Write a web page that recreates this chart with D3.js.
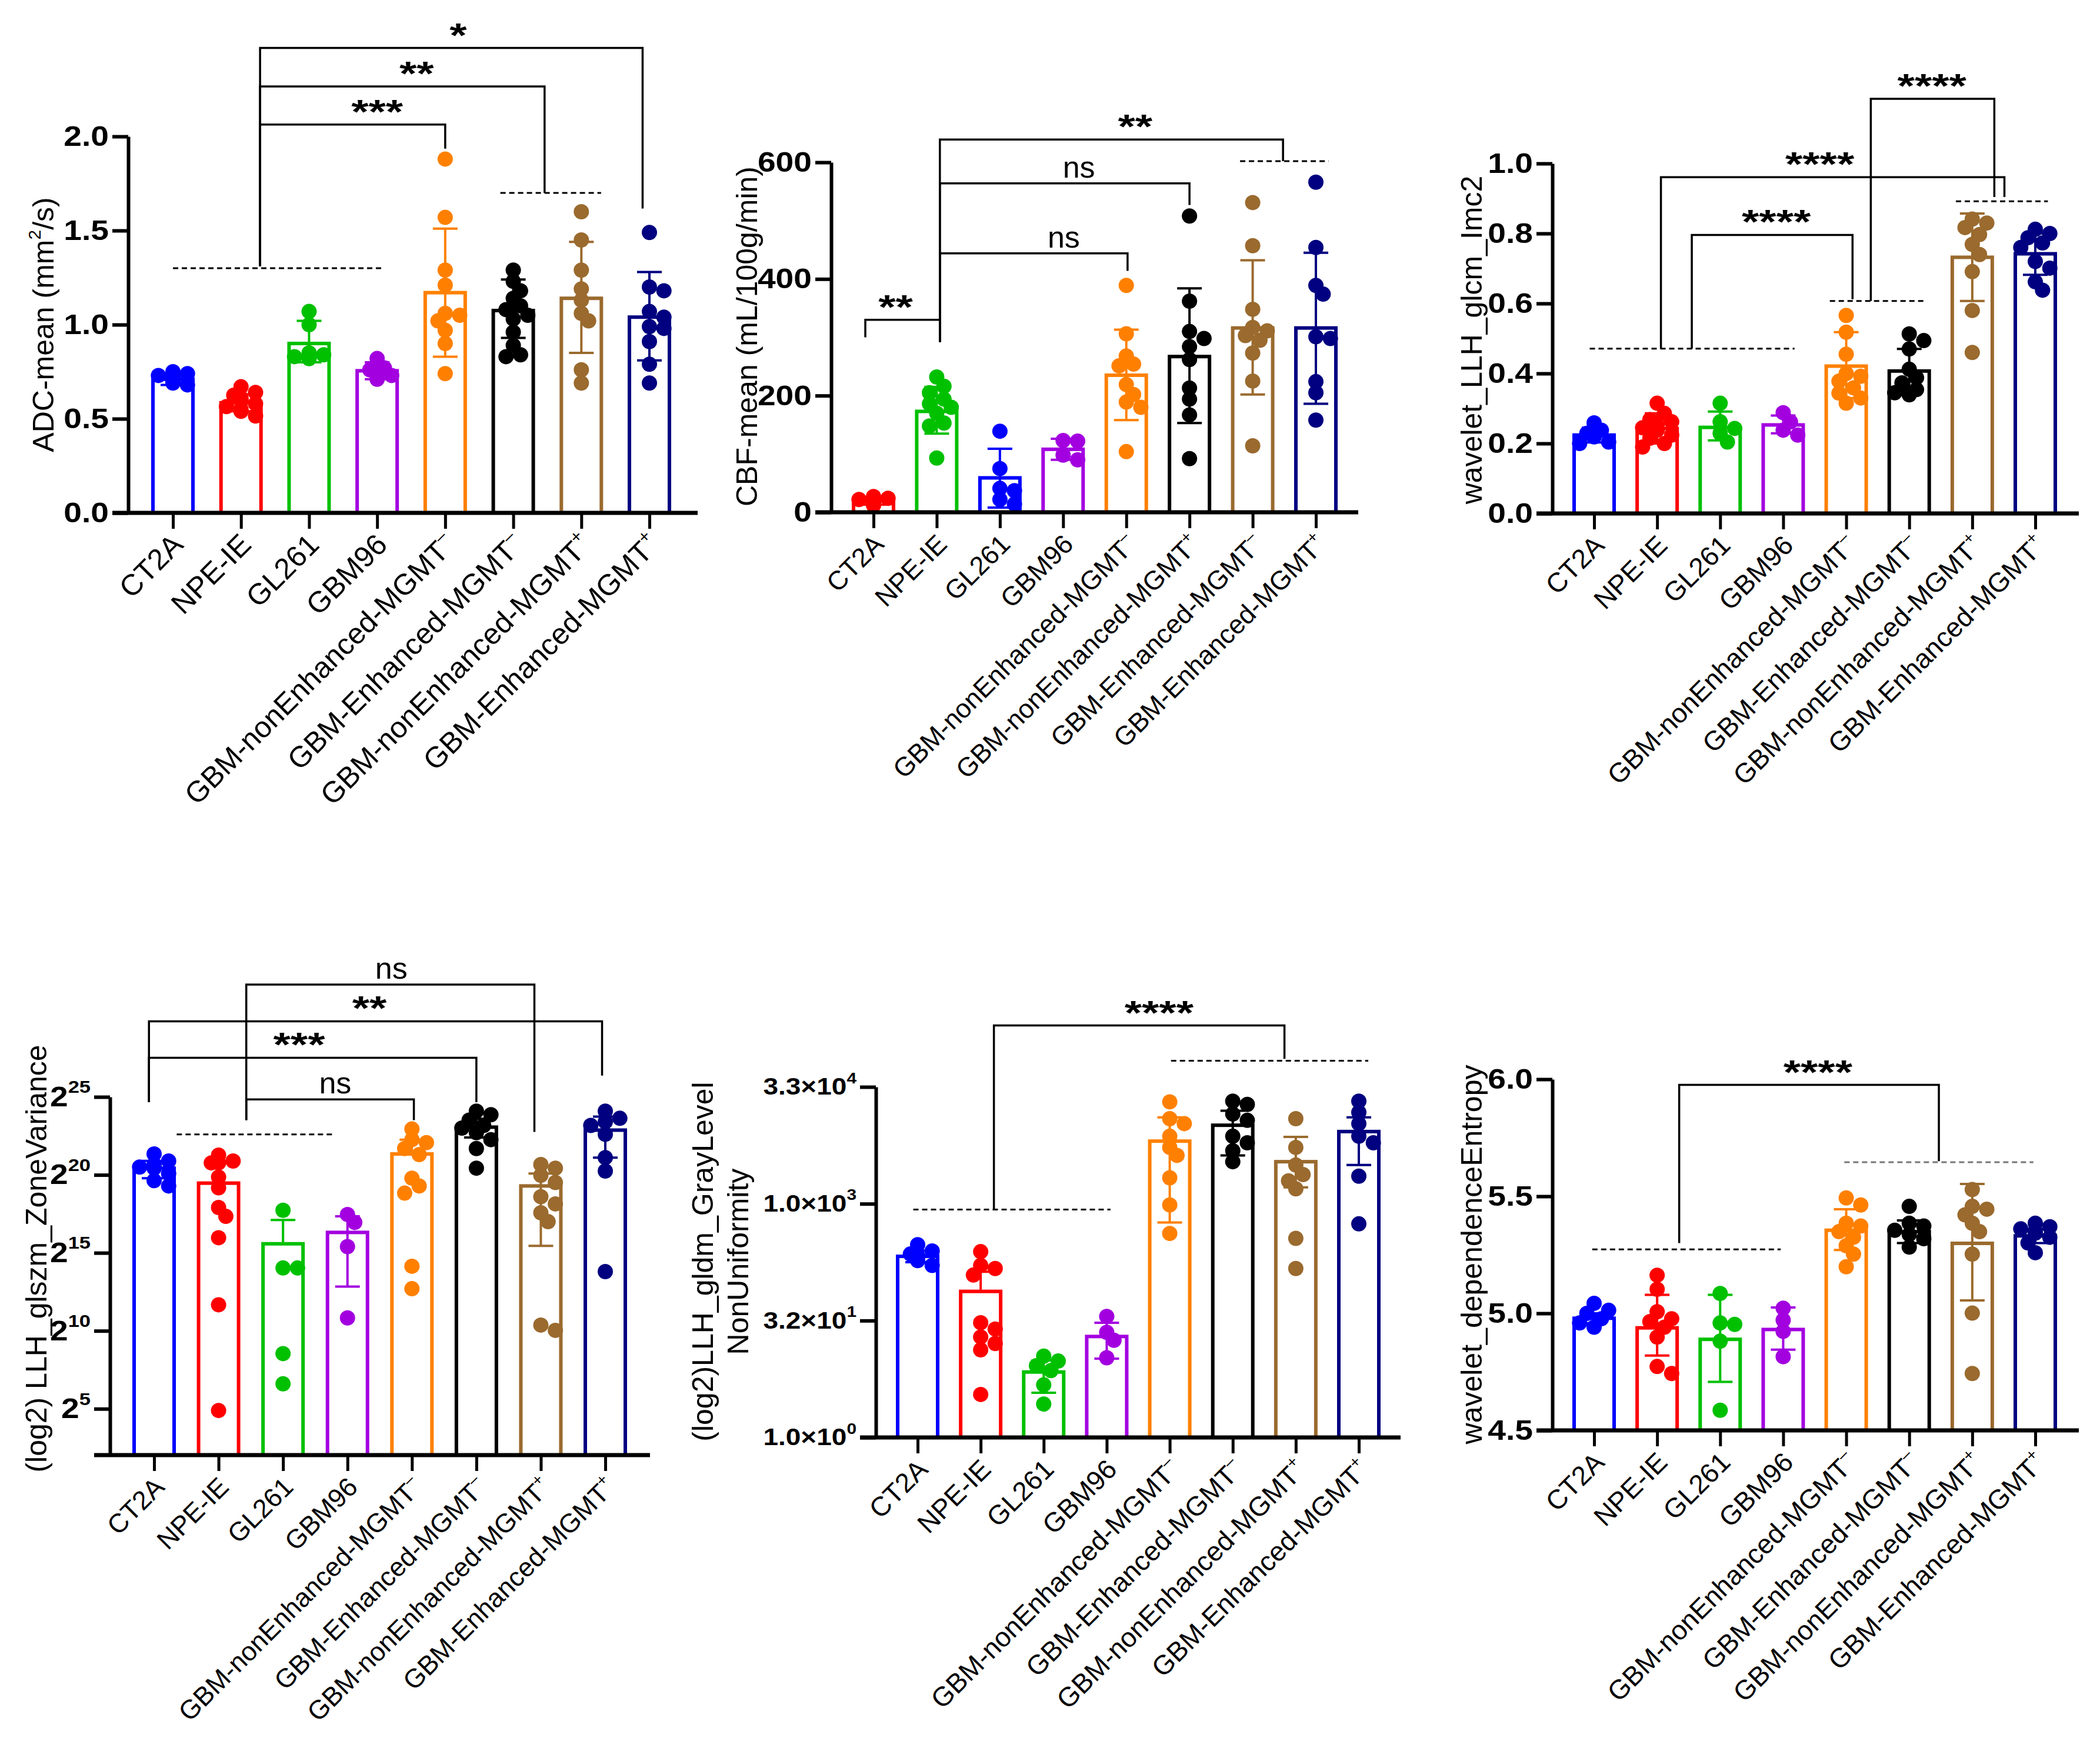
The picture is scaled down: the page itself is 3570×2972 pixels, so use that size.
<!DOCTYPE html>
<html>
<head>
<meta charset="utf-8">
<script src="https://cdn.jsdelivr.net/npm/d3@7"></script>
<style>
  body { margin: 0; background: #fff; }
  svg text { font-family: "Liberation Sans", Arial, sans-serif; }
</style>
</head>
<body>
<div id="svg-container"></div>
<script>
////////////////////////////////////////////////////////////////////
////////////////////////////  Data  ////////////////////////////////
// group labels: [text, superscript]
const labelsA = [["CT2A", ""], ["NPE-IE", ""], ["GL261", ""], ["GBM96", ""],
  ["GBM-nonEnhanced-MGMT", "\u2013"], ["GBM-Enhanced-MGMT", "\u2013"],
  ["GBM-nonEnhanced-MGMT", "+"], ["GBM-Enhanced-MGMT", "+"]];
const labelsB = [["CT2A", ""], ["NPE-IE", ""], ["GL261", ""], ["GBM96", ""],
  ["GBM-nonEnhanced-MGMT", "\u2013"], ["GBM-nonEnhanced-MGMT", "+"],
  ["GBM-Enhanced-MGMT", "\u2013"], ["GBM-Enhanced-MGMT", "+"]];

const colorsA = ["#0000ff", "#ff0000", "#00c000", "#a300e0", "#ff8000", "#000000", "#9a6a2e", "#000080"];
const colorsB = ["#ff0000", "#00c000", "#0000ff", "#a300e0", "#ff8000", "#000000", "#9a6a2e", "#000080"];

// ADC-mean
const adcMean = [0.71, 0.585, 0.90, 0.755, 1.17, 1.075, 1.14, 1.04];
const adcHi = [0.74, 0.63, 1.02, 0.80, 1.51, 1.24, 1.44, 1.28];
const adcLo = [0.68, 0.54, 0.80, 0.71, 0.83, 0.93, 0.85, 0.81];
const adcPts = [
  [0.75, 0.74, 0.73, 0.72, 0.72, 0.70, 0.69, 0.68],
  [0.67, 0.64, 0.625, 0.61, 0.60, 0.595, 0.58, 0.565, 0.55, 0.54, 0.515],
  [1.07, 1.00, 0.85, 0.84, 0.83, 0.82, 0.82],
  [0.82, 0.77, 0.76, 0.73, 0.71],
  [1.88, 1.57, 1.29, 1.21, 1.06, 1.05, 1.02, 0.97, 0.90, 0.74],
  [1.29, 1.23, 1.18, 1.14, 1.10, 1.08, 1.05, 1.03, 0.96, 0.89, 0.84, 0.83],
  [1.60, 1.45, 1.29, 1.19, 1.13, 1.06, 1.02, 0.76, 0.69],
  [1.49, 1.20, 1.18, 1.07, 1.04, 0.99, 0.98, 0.91, 0.79, 0.69]
];
const adcDashes = [{ x0: 0, x1: 3.11, y: 1.30 }, { x0: 4.81, x1: 6.29, y: 1.70 }];
const adcSig = [
  { xl: 1.28, yl: 1.31, xr: 4.0, yr: 1.935, top: 2.063, text: "***", tx: 3.0 },
  { xl: 1.28, yl: 1.31, xr: 5.46, yr: 1.70, top: 2.266, text: "**", tx: 3.58 },
  { xl: 1.28, yl: 1.31, xr: 6.9, yr: 1.617, top: 2.47, text: "*", tx: 4.19 }
];

// CBF-mean
const cbfMean = [19, 173, 59, 108, 235, 267, 316, 316];
const cbfHi = [25, 215, 109, 126, 313, 384, 432, 445];
const cbfLo = [13, 135, 8, 90, 158, 153, 202, 186];
const cbfPts = [
  [27, 24, 22, 20, 18, 16, 14, 12],
  [232, 216, 205, 194, 186, 180, 170, 153, 148, 93],
  [139, 75, 41, 37, 22, 14],
  [123, 122, 98, 90],
  [389, 306, 268, 254, 251, 219, 202, 189, 180, 104],
  [508, 362, 310, 298, 284, 262, 213, 194, 167, 92],
  [531, 457, 348, 317, 311, 303, 295, 273, 225, 114],
  [566, 454, 389, 374, 301, 298, 224, 205, 158]
];
const cbfDashes = [{ x0: 5.8, x1: 7.2, y: 602 }];
const cbfSig = [
  { xl: -0.13, yl: 300, xr: 1.05, yr: 292, top: 330, text: "**", tx: 0.35 },
  { xl: 1.05, yl: 292, xr: 4.02, yr: 414, top: 444, text: "ns", tx: 3.01 },
  { xl: 1.05, yl: 292, xr: 5.0, yr: 527, top: 564, text: "ns", tx: 3.25 },
  { xl: 1.05, yl: 292, xr: 6.48, yr: 602, top: 639, text: "**", tx: 4.14 }
];

// wavelet_LLH_glcm_Imc2
const glcmMean = [0.224, 0.243, 0.246, 0.253, 0.421, 0.407, 0.732, 0.742];
const glcmHi = [0.245, 0.286, 0.291, 0.28, 0.518, 0.47, 0.857, 0.80];
const glcmLo = [0.203, 0.20, 0.209, 0.229, 0.33, 0.35, 0.607, 0.682];
const glcmPts = [
  [0.259, 0.238, 0.229, 0.222, 0.219, 0.204, 0.20],
  [0.315, 0.286, 0.268, 0.262, 0.253, 0.245, 0.238, 0.224, 0.215, 0.20, 0.19],
  [0.315, 0.262, 0.243, 0.229, 0.204],
  [0.288, 0.262, 0.238, 0.224],
  [0.566, 0.518, 0.455, 0.40, 0.392, 0.378, 0.359, 0.344, 0.33, 0.315],
  [0.513, 0.494, 0.47, 0.412, 0.388, 0.373, 0.354, 0.345, 0.339],
  [0.841, 0.83, 0.817, 0.797, 0.769, 0.74, 0.691, 0.58, 0.46],
  [0.812, 0.80, 0.788, 0.773, 0.76, 0.72, 0.701, 0.662, 0.638]
];
const glcmDashes = [{ x0: -0.07, x1: 3.18, y: 0.471 }, { x0: 3.74, x1: 5.27, y: 0.607 }, { x0: 5.74, x1: 7.2, y: 0.892 }];
const glcmSig = [
  { xl: 1.55, yl: 0.471, xr: 4.1, yr: 0.612, top: 0.796, text: "****", tx: 2.89 },
  { xl: 1.06, yl: 0.471, xr: 6.51, yr: 0.904, top: 0.961, text: "****", tx: 3.58 },
  { xl: 4.39, yl: 0.607, xr: 6.35, yr: 0.904, top: 1.185, text: "****", tx: 5.36 }
];

// (log2) LLH_glszm_ZoneVariance, values are log2 exponents
const glszmMean = [20.43, 19.47, 15.58, 16.31, 21.34, 23.06, 19.29, 22.87];
const glszmHi = [20.9, 20.77, 17.11, 17.34, 22.26, 23.6, 20.09, 23.74];
const glszmLo = [19.79, null, null, 12.84, null, 22.4, 15.45, 21.11];
const glszmPts = [
  [21.34, 20.89, 20.66, 20.5, 20.43, 20.09, 19.63, 19.29],
  [21.27, 20.89, 20.77, 20.77, 19.86, 19.17, 17.91, 17.34, 15.97, 11.67, 4.89],
  [17.73, 14.03, 14.03, 8.54, 6.6],
  [17.46, 16.95, 15.4, 10.83],
  [22.94, 22.26, 22.07, 21.69, 21.3, 19.79, 19.29, 18.83, 14.14, 12.7],
  [24.09, 23.86, 23.51, 23.17, 23.0, 22.71, 22.26, 21.69, 20.43],
  [20.66, 20.43, 19.97, 19.51, 18.6, 18.14, 17.57, 17.0, 10.37, 10.03],
  [24.09, 23.63, 23.4, 23.17, 22.6, 21.11, 20.25, 13.8]
];
const glszmDashes = [{ x0: 0.35, x1: 2.78, y: 22.6 }];
const glszmSig = [
  { xl: 1.43, yl: 23.51, xr: 4.03, yr: 23.51, top: 24.84, text: "ns", tx: 2.81 },
  { xl: -0.08, yl: 24.66, xr: 5.0, yr: 24.66, top: 27.51, text: "***", tx: 2.25 },
  { xl: -0.08, yl: 24.66, xr: 6.95, yr: 26.37, top: 29.85, text: "**", tx: 3.34 },
  { xl: 1.43, yl: 23.51, xr: 5.90, yr: 22.76, top: 32.2, text: "ns", tx: 3.68 }
];

// (log2) LLH_gldm_GrayLevelNonUniformity, values are log2 exponents
const gldmMean = [7.75, 6.25, 2.8, 4.32, 12.68, 13.36, 11.8, 13.09];
const gldmHi = [8.0, 7.09, 3.3, 4.91, 13.7, 13.98, 12.86, 13.7];
const gldmLo = [7.5, null, 1.91, 3.37, 9.2, 12.07, 10.7, 11.66];
const gldmPts = [
  [8.25, 7.98, 7.85, 7.77, 7.57, 7.36],
  [7.95, 7.36, 7.23, 6.95, 4.91, 4.64, 4.3, 4.02, 3.75, 1.84],
  [3.48, 3.27, 3.07, 2.86, 2.25, 1.43],
  [5.18, 4.5, 4.16, 3.41],
  [14.36, 13.64, 13.43, 12.89, 12.41, 12.07, 11.11, 9.95, 8.73],
  [14.39, 14.25, 13.84, 13.57, 12.89, 12.61, 12.27, 11.8],
  [13.64, 12.41, 11.66, 11.25, 10.98, 10.64, 8.52, 7.23],
  [14.39, 13.91, 13.43, 12.89, 12.61, 11.18, 9.14]
];
const gldmTickLabels = [["1.0\u00d710", "0"], ["3.2\u00d710", "1"], ["1.0\u00d710", "3"], ["3.3\u00d710", "4"]];
const gldmDashes = [{ x0: -0.07, x1: 3.06, y: 9.75 }, { x0: 4.02, x1: 7.15, y: 16.12 }];
const gldmSig = [{ xl: 1.21, yl: 9.75, xr: 5.82, yr: 16.2, top: 17.63, text: "****", tx: 3.83 }];

// wavelet_dependenceEntropy
const entMean = [4.979, 4.938, 4.889, 4.931, 5.355, 5.349, 5.299, 5.331];
const entHi = [5.0, 5.079, 5.079, 5.025, 5.445, 5.397, 5.553, 5.36];
const entLo = [4.958, 4.82, 4.707, 4.845, 5.271, 5.30, 5.055, 5.30];
const entPts = [
  [5.043, 5.013, 5.0, 4.977, 4.959, 4.941],
  [5.163, 5.103, 5.007, 4.977, 4.965, 4.941, 4.899, 4.773, 4.743],
  [5.085, 4.959, 4.953, 4.881, 4.586],
  [5.022, 4.971, 4.923, 4.815],
  [5.493, 5.463, 5.385, 5.373, 5.349, 5.325, 5.289, 5.253, 5.199],
  [5.457, 5.385, 5.373, 5.355, 5.337, 5.319, 5.283],
  [5.529, 5.457, 5.445, 5.421, 5.385, 5.349, 5.253, 5.001, 4.743],
  [5.385, 5.37, 5.361, 5.35, 5.343, 5.325, 5.301, 5.259]
];
const entDashes = [{ x0: -0.03, x1: 2.96, y: 5.273 }, { x0: 3.97, x1: 6.97, y: 5.646, c: "#777" }];
const entSig = [{ xl: 1.35, yl: 5.30, xr: 5.47, yr: 5.65, top: 5.976, text: "****", tx: 3.55 }];

////////////////////////////////////////////////////////////////////
////////////////////////////  Init  ////////////////////////////////
const W = 3570, H = 2972;
const svg = d3.select("#svg-container").append("svg")
  .attr("width", W).attr("height", H).style("background", "#fff");

const TICK = 27;
const BAR_W = 68;
const R = 13;

// simple swarm: put dots at the centre, shift sideways when they collide
function swarm(vals, y, cx) {
  const placed = [];
  const steps = [0, 1, -1, 2, -2];
  vals.slice().sort((a, b) => b - a).forEach((v) => {
    const py = y(v);
    let px = cx;
    for (const k of steps) {
      const tx = cx + k * R * 0.95;
      if (placed.every((q) => Math.hypot(q.x - tx, q.y - py) >= R * 1.35)) { px = tx; break; }
    }
    placed.push({ x: px, y: py });
  });
  return placed;
}

function drawPanel(p) {
  const g = svg.append("g");
  const y = d3.scaleLinear().domain(p.domain).range([p.y0, p.y1]);
  const xPt = d3.scalePoint().domain(d3.range(8)).range([p.c0, p.c7]);
  const xi = d3.scaleLinear().domain([0, 7]).range([p.c0, p.c7]);
  const labSize = p.labSize || 50;

  // bars
  g.selectAll(".bar").data(p.mean).join("rect")
    .attr("x", (d, i) => xPt(i) - BAR_W / 2)
    .attr("width", BAR_W)
    .attr("y", (d) => y(d))
    .attr("height", (d) => p.y0 - y(d))
    .attr("fill", "#fff")
    .attr("stroke", (d, i) => p.colors[i])
    .attr("stroke-width", 6);

  // dots
  p.pts.forEach((vals, i) => {
    g.append("g").selectAll("circle").data(swarm(vals, y, xPt(i))).join("circle")
      .attr("cx", (d) => d.x).attr("cy", (d) => d.y).attr("r", R)
      .attr("fill", p.colors[i]);
  });

  // error bars (SD)
  p.mean.forEach((m, i) => {
    const cx = xPt(i);
    const top = y(p.hi[i]);
    const bot = p.lo[i] == null ? y(m) : y(p.lo[i]);
    const eg = g.append("g").attr("stroke", p.colors[i]).attr("stroke-width", 4);
    eg.append("line").attr("x1", cx).attr("x2", cx).attr("y1", top).attr("y2", bot);
    eg.append("line").attr("x1", cx - 21).attr("x2", cx + 21).attr("y1", top).attr("y2", top);
    if (p.lo[i] != null) eg.append("line").attr("x1", cx - 21).attr("x2", cx + 21).attr("y1", bot).attr("y2", bot);
  });

  // baseline (x axis line)
  g.append("line").attr("x1", p.ax - TICK).attr("x2", p.xr)
    .attr("y1", p.y0).attr("y2", p.y0).attr("stroke", "#000").attr("stroke-width", 7);

  // y axis
  const yAxis = g.append("g").attr("transform", `translate(${p.ax},0)`)
    .call(d3.axisLeft(y).tickValues(p.ticks).tickSize(TICK).tickSizeOuter(0));
  yAxis.select(".domain").attr("stroke-width", 6);
  yAxis.selectAll(".tick line").attr("stroke-width", 6);
  yAxis.selectAll(".tick text")
    .attr("x", null)
    .attr("transform", `translate(${-TICK - 6},0) scale(1.15,1)`)
    .attr("font-size", p.tickSize || 48)
    .attr("font-weight", "bold")
    .attr("font-family", "'Liberation Sans', Arial, sans-serif")
    .attr("fill", "#000")
    .each(function (d, i) {
      const f = p.tickFmt(d, i);
      const t = d3.select(this).text(null);
      t.append("tspan").text(f[0]);
      if (f[1]) t.append("tspan").attr("font-size", p.supSize || 30).attr("dy", "-0.75em").text(f[1]);
    });

  // x ticks
  const xAxis = g.append("g").attr("transform", `translate(0,${p.y0})`)
    .call(d3.axisBottom(xPt).tickSize(TICK).tickFormat(""));
  xAxis.select(".domain").remove();
  xAxis.selectAll(".tick line").attr("stroke-width", 5);

  // x labels
  g.selectAll(".xlab").data(p.labels).join("text")
    .attr("transform", (d, i) => `translate(${xPt(i) + 20},${p.y0 + TICK + 30}) rotate(-45)`)
    .attr("text-anchor", "end")
    .attr("font-size", labSize)
    .each(function (d) {
      const t = d3.select(this);
      t.append("tspan").text(d[0]);
      if (d[1]) t.append("tspan").attr("font-size", labSize * 0.6).attr("dy", -labSize * 0.44).text(d[1]);
    });

  // y title
  p.title.forEach((line) => {
    const tt = g.append("text")
      .attr("transform", `translate(${p.ax - line.off},${p.tY}) rotate(-90)`)
      .attr("text-anchor", "middle").attr("font-size", 50);
    line.segs.forEach((s) => {
      const ts = tt.append("tspan").text(s[0]);
      if (s[1] === "sup") ts.attr("font-size", 30).attr("dy", -22);
      if (s[1] === "down") ts.attr("dy", 22);
    });
  });

  // dashed group lines
  p.dashes.forEach((d) => {
    g.append("line").attr("x1", xi(d.x0)).attr("x2", xi(d.x1))
      .attr("y1", y(d.y)).attr("y2", y(d.y))
      .attr("stroke", d.c || "#000").attr("stroke-width", 3).attr("stroke-dasharray", "9,6");
  });

  // significance brackets
  p.sig.forEach((b) => {
    g.append("path")
      .attr("d", `M${xi(b.xl)},${y(b.yl)}V${y(b.top)}H${xi(b.xr)}V${y(b.yr)}`)
      .attr("fill", "none").attr("stroke", "#000").attr("stroke-width", 3.5);
    const star = b.text[0] === "*";
    g.append("text")
      .attr("transform", `translate(${xi(b.tx)},${y(b.top) - (star ? 2 : 10)}) scale(${star ? 1.3 : 1},1)`)
      .attr("text-anchor", "middle")
      .attr("font-size", star ? 58 : 52)
      .attr("font-weight", star ? "bold" : "normal")
      .text(b.text);
  });
}

const fmt1 = (d) => [d3.format(".1f")(d), ""];

drawPanel({
  ax: 218, y0: 872, y1: 232, xr: 1186, c0: 294, c7: 1104,
  domain: [0, 2], ticks: [0, 0.5, 1, 1.5, 2], tickFmt: fmt1,
  labels: labelsA, colors: colorsA, labSize: 50,
  mean: adcMean, hi: adcHi, lo: adcLo, pts: adcPts, dashes: adcDashes, sig: adcSig,
  tY: 552, title: [{ off: 127, segs: [["ADC-mean (mm"], ["2", "sup"], ["/s)", "down"]] }]
});

drawPanel({
  ax: 1413, y0: 871, y1: 276, xr: 2309, c0: 1485, c7: 2237,
  domain: [0, 600], ticks: [0, 200, 400, 600], tickFmt: (d) => [String(d), ""],
  labels: labelsB, colors: colorsB, labSize: 45,
  mean: cbfMean, hi: cbfHi, lo: cbfLo, pts: cbfPts, dashes: cbfDashes, sig: cbfSig,
  tY: 572, title: [{ off: 126, segs: [["CBF-mean (mL/100g/min)"]] }]
});

drawPanel({
  ax: 2639, y0: 873, y1: 278, xr: 3534, c0: 2710, c7: 3460,
  domain: [0, 1], ticks: [0, 0.2, 0.4, 0.6, 0.8, 1.0], tickFmt: fmt1,
  labels: labelsA, colors: colorsA, labSize: 46,
  mean: glcmMean, hi: glcmHi, lo: glcmLo, pts: glcmPts, dashes: glcmDashes, sig: glcmSig,
  tY: 578, title: [{ off: 120, segs: [["wavelet_LLH_glcm_Imc2"]] }]
});

drawPanel({
  ax: 187, y0: 2474, y1: 1865, xr: 1105, c0: 262, c7: 1029,
  domain: [2.03, 25], ticks: [5, 10, 15, 20, 25], tickFmt: (d) => ["2", String(d)],
  supSize: 30,
  labels: labelsA, colors: colorsA, labSize: 45,
  mean: glszmMean, hi: glszmHi, lo: glszmLo, pts: glszmPts, dashes: glszmDashes, sig: glszmSig,
  tY: 2140, title: [{ off: 108, segs: [["(log2) LLH_glszm_ZoneVariance"]] }]
});

drawPanel({
  ax: 1489, y0: 2444, y1: 1848, xr: 2381, c0: 1560, c7: 2310,
  domain: [0, 15], ticks: [0, 5, 10, 15], tickFmt: (d, i) => gldmTickLabels[i],
  tickSize: 40, supSize: 26,
  labels: labelsA, colors: colorsA, labSize: 46,
  mean: gldmMean, hi: gldmHi, lo: gldmLo, pts: gldmPts, dashes: gldmDashes, sig: gldmSig,
  tY: 2145, title: [
    { off: 277, segs: [["(log2)LLH_gldm_GrayLevel"]] },
    { off: 217, segs: [["NonUniformity"]] }
  ]
});

drawPanel({
  ax: 2639, y0: 2432, y1: 1835, xr: 3534, c0: 2710, c7: 3460,
  domain: [4.5, 6], ticks: [4.5, 5, 5.5, 6], tickFmt: fmt1,
  labels: labelsA, colors: colorsA, labSize: 46,
  mean: entMean, hi: entHi, lo: entLo, pts: entPts, dashes: entDashes, sig: entSig,
  tY: 2133, title: [{ off: 120, segs: [["wavelet_dependenceEntropy"]] }]
});
</script>
</body>
</html>
